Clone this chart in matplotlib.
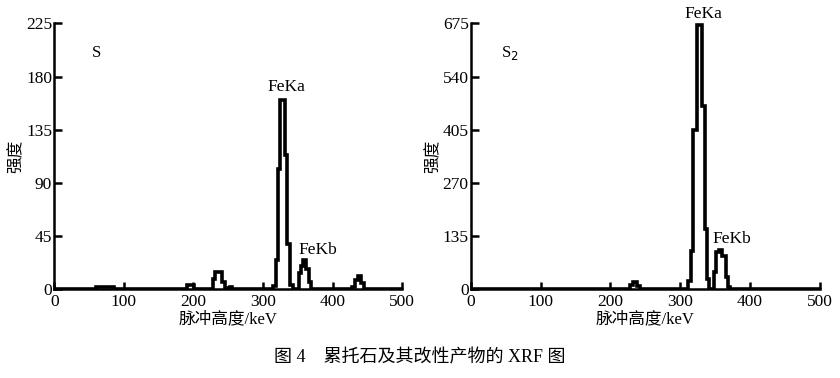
import matplotlib
matplotlib.use("Agg")
import matplotlib.pyplot as plt
import numpy as np

plt.rcParams['font.family'] = ['Liberation Serif', 'Noto Sans CJK SC']

# Panel S (left): step edges (keV) and counts per step
s_edges = [0, 60, 86, 190, 201, 228, 231, 241, 245, 252, 256, 314, 318, 322, 325, 331,
           335, 339, 343, 351, 354, 357, 362, 366, 369, 428, 432, 436, 441, 445, 500]
s_counts = [0, 2, 0, 4, 0, 9, 15, 6, 1, 2, 0, 3, 25, 102, 160, 114,
            38, 4, 0, 14, 20, 25, 17, 6, 0, 2, 8, 11, 5, 0]

# Panel S2 (right)
s2_edges = [0, 228, 232, 238, 243, 311, 315, 319, 324, 332, 336, 339, 342, 348, 351,
            355, 360, 365, 369, 372, 500]
s2_counts = [0, 10, 18, 8, 0, 20, 98, 405, 670, 465, 152, 25, 0, 45, 95,
             100, 85, 30, 5, 0]

s_yticks = [0, 45, 90, 135, 180, 225]
s2_yticks = [0, 135, 270, 405, 540, 675]
xticks = [0, 100, 200, 300, 400, 500]

fig = plt.figure(figsize=(8.4, 3.78), dpi=100)
ax1 = fig.add_axes([0.0646, 0.2347, 0.4143, 0.7033])
ax2 = fig.add_axes([0.5604, 0.2347, 0.4155, 0.7033])

def draw(ax, edges, counts, yticks):
    e = np.array(edges, dtype=float)
    c = np.array(counts, dtype=float)
    ax.stairs(c, e, color='black', linewidth=2.6, baseline=None)
    ax.set_xlim(0, 500)
    ax.set_ylim(0, yticks[-1])
    ax.set_xticks(xticks)
    ax.set_yticks(yticks)
    for sp in ['top', 'right']:
        ax.spines[sp].set_visible(False)
    for sp in ['left', 'bottom']:
        ax.spines[sp].set_linewidth(1.8)
    ax.tick_params(axis='both', direction='in', width=1.8, labelsize=12.5, pad=1)
    ax.tick_params(axis='x', length=5, pad=3.5)
    ax.tick_params(axis='y', length=6, pad=1.5)
    ax.set_xlabel('脉冲高度/keV', fontsize=12, labelpad=0.5)
    ax.set_ylabel('强度', fontsize=12, labelpad=1)

draw(ax1, s_edges, s_counts, s_yticks)
draw(ax2, s2_edges, s2_counts, s2_yticks)

ax1.text(61, 200, 'S', fontsize=12, ha='center', va='center')
ax1.text(333, 171, 'FeKa', fontsize=12.5, ha='center', va='center')
ax1.text(378, 33, 'FeKb', fontsize=12.5, ha='center', va='center')

ax2.text(56, 601, 'S$_{2}$', fontsize=12, ha='center', va='center')
ax2.text(334, 698, 'FeKa', fontsize=12.5, ha='center', va='center', clip_on=False)
ax2.text(374, 127, 'FeKb', fontsize=12.5, ha='center', va='center')

fig.text(0.5, 0.053, '图 4    累托石及其改性产物的 XRF 图', ha='center', va='center', fontsize=13)

fig.savefig('out.png', dpi=100)
